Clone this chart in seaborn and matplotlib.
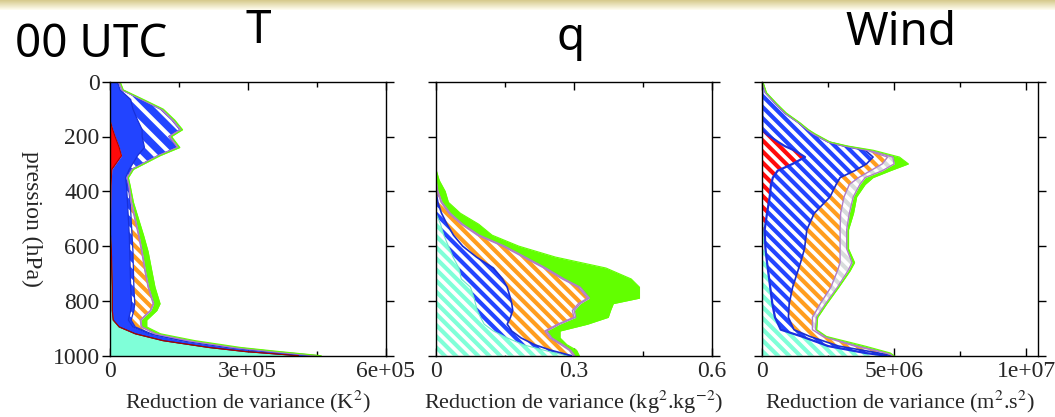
import numpy as np
import matplotlib
matplotlib.use("Agg")
import matplotlib.pyplot as plt
from matplotlib.ticker import NullLocator
import seaborn as sns

sns.set_style("white")
plt.rcParams.update({
    "font.family": ["Liberation Serif", "DejaVu Serif"],
    "mathtext.fontset": "stix",
    "hatch.linewidth": 3.0,
    "axes.linewidth": 1.0,
    "axes.edgecolor": "black",
})

# ---------------------------------------------------------------------------
# Cumulative reduction of variance, stacked by observation type
# (each array is the running total up to and including that type)
# ---------------------------------------------------------------------------

# Temperature (units of 1e5 K^2)
P_T = np.array([0, 30, 65, 100, 140, 175, 200, 240, 270, 320, 350, 380, 440, 500,
                560, 620, 690, 750, 810, 835, 870, 895, 920, 945, 970, 985, 1000])
T_CYAN = np.array([0, 0, 0, 0, 0, 0, 0, 0, 0, 0, 0, 0, 0, 0, 0.01, 0.03, 0.04, 0.05,
                   0.05, 0.05, 0.07, 0.2, 0.55, 1.15, 2.15, 2.95, 4.1])
T_RED = np.array([0, 0, 0, 0, 0, 0.06, 0.11, 0.2, 0.25, 0.04, 0.03, 0.02, 0.015, 0.01,
                  0.01, 0.03, 0.04, 0.05, 0.05, 0.05, 0.07, 0.2, 0.55, 1.15, 2.15, 2.95, 4.1])
T_BLUE = np.array([0.16, 0.22, 0.45, 0.5, 0.6, 0.7, 0.7, 0.75, 0.6, 0.42, 0.34, 0.36, 0.38,
                   0.40, 0.42, 0.43, 0.44, 0.45, 0.47, 0.45, 0.40, 0.5, 0.85, 1.55, 2.55, 3.4, 4.4])
T_BLUE_H = np.array([0.19, 0.26, 0.68, 1.1, 1.35, 1.52, 1.28, 1.46, 1.04, 0.47, 0.37, 0.40,
                     0.44, 0.46, 0.48, 0.50, 0.51, 0.52, 0.54, 0.52, 0.46, 0.55, 0.9, 1.62,
                     2.62, 3.47, 4.45])
T_ORANGE = np.array([0.19, 0.26, 0.69, 1.11, 1.36, 1.53, 1.29, 1.47, 1.05, 0.48, 0.375, 0.41,
                     0.46, 0.54, 0.62, 0.69, 0.76, 0.83, 0.94, 0.88, 0.66, 0.68, 0.98, 1.7,
                     2.7, 3.55, 4.5])
T_GREY = np.array([0.2, 0.27, 0.7, 1.12, 1.37, 1.54, 1.3, 1.48, 1.06, 0.49, 0.38, 0.42, 0.47,
                   0.55, 0.63, 0.70, 0.77, 0.84, 0.95, 0.89, 0.67, 0.69, 0.99, 1.72, 2.72,
                   3.57, 4.52])
T_GREEN = np.array([0.22, 0.29, 0.73, 1.16, 1.41, 1.58, 1.34, 1.52, 1.09, 0.51, 0.40, 0.44,
                    0.51, 0.62, 0.73, 0.83, 0.91, 0.98, 1.09, 1.02, 0.80, 0.80, 1.10, 1.85,
                    2.85, 3.7, 4.6])

# Specific humidity (kg^2.kg^-2)
P_Q = np.array([0, 320, 360, 400, 440, 480, 520, 560, 600, 640, 680, 720, 750, 790, 810,
                835, 860, 885, 910, 935, 960, 980, 1000])
Q_CYAN = np.array([0, 0, 0, 0, 0, 0, 0.01, 0.017, 0.027, 0.037, 0.05, 0.055, 0.075, 0.083,
                   0.086, 0.09, 0.097, 0.105, 0.125, 0.155, 0.19, 0.235, 0.285])
Q_BLUE = np.array([0, 0, 0, 0, 0.004, 0.012, 0.024, 0.038, 0.058, 0.088, 0.125, 0.145, 0.155,
                   0.162, 0.165, 0.167, 0.162, 0.155, 0.165, 0.185, 0.215, 0.25, 0.295])
Q_ORANGE = np.array([0, 0, 0, 0.003, 0.011, 0.028, 0.055, 0.09, 0.145, 0.19, 0.235, 0.275,
                     0.31, 0.33, 0.31, 0.297, 0.30, 0.265, 0.237, 0.248, 0.272, 0.29, 0.299])
Q_GREY = np.array([0, 0, 0, 0.004, 0.013, 0.031, 0.058, 0.094, 0.149, 0.194, 0.239, 0.279,
                   0.314, 0.334, 0.314, 0.301, 0.304, 0.269, 0.241, 0.252, 0.276, 0.293, 0.302])
Q_GREEN = np.array([0, 0, 0.007, 0.02, 0.027, 0.053, 0.093, 0.122, 0.18, 0.26, 0.37, 0.425,
                    0.443, 0.443, 0.386, 0.38, 0.375, 0.33, 0.27, 0.27, 0.285, 0.306, 0.312])

# Wind (units of 1e6 m^2.s^2)
P_W = np.array([0, 40, 80, 115, 150, 175, 190, 220, 235, 250, 275, 300, 325, 350, 375, 420,
                480, 540, 610, 660, 690, 750, 810, 860, 905, 930, 965, 990, 1000])
W_CYAN = np.array([0, 0, 0, 0, 0, 0, 0, 0, 0, 0, 0, 0, 0, 0, 0, 0, 0, 0.03, 0.12, 0.18,
                   0.22, 0.3, 0.38, 0.48, 0.7, 1.5, 2.5, 3.9, 4.7])
W_RED = np.array([0, 0, 0, 0, 0, 0, 0.15, 0.6, 0.85, 1.2, 1.62, 1.15, 0.58, 0.4, 0.33, 0.28,
                  0.18, 0.09, 0.12, 0.18, 0.22, 0.3, 0.38, 0.48, 0.7, 1.5, 2.5, 3.9, 4.7])
W_BLUE = np.array([0, 0.12, 0.5, 0.86, 1.38, 1.7, 1.92, 2.5, 3.1, 3.9, 4.2, 3.95, 3.5, 2.95,
                   2.8, 2.57, 1.97, 1.69, 1.6, 1.45, 1.35, 1.15, 1.02, 0.99, 1.2, 1.81, 2.9,
                   4.4, 4.9])
W_ORANGE = np.array([0, 0.12, 0.5, 0.86, 1.38, 1.7, 1.92, 2.5, 3.12, 3.95, 4.75, 4.55, 4.1,
                     3.65, 3.3, 3.1, 2.97, 2.95, 2.95, 2.95, 2.85, 2.6, 2.2, 1.9, 1.9, 2.3,
                     3.5, 4.7, 4.95])
W_GREY = np.array([0.01, 0.13, 0.52, 0.88, 1.4, 1.72, 1.95, 2.53, 3.17, 4.05, 4.95, 5.0, 4.55,
                   3.9, 3.7, 3.45, 3.3, 3.2, 3.2, 3.4, 3.25, 2.85, 2.4, 2.05, 2.02, 2.38, 3.6,
                   4.75, 4.97])
W_GREEN = np.array([0.02, 0.16, 0.55, 0.92, 1.43, 1.75, 2.0, 2.57, 3.25, 4.2, 5.2, 5.54, 4.85,
                    4.2, 3.9, 3.58, 3.46, 3.27, 3.27, 3.5, 3.33, 2.9, 2.45, 2.1, 2.06, 2.44,
                    3.9, 4.85, 5.0])

PRESSURE_TICKS = [0, 200, 400, 600, 800, 1000]
T_TICKS, T_TICKLABELS = [0, 3e5, 6e5], ["0", "3e+05", "6e+05"]
Q_TICKS, Q_TICKLABELS = [0, 0.3, 0.6], ["0", "0.3", "0.6"]
W_TICKS, W_TICKLABELS = [0, 5e6, 1e7], ["0", "5e+06", "1e+07"]

# ---------------------------------------------------------------------------
# Fill styles
# ---------------------------------------------------------------------------
CYAN = "#7fffd8"
RED = "#ff0a0a"
BLUE = "#2244ff"
ORANGE = "#ff9d1e"
GREY = "#d8dcdc"
GREEN = "#62ff00"
VIOLET = "#b07cc8"

BS = chr(92)                 # backslash: stripes running top-left to bottom-right
STRIPES = BS * 3             # diagonal stripes on white
SPARSE = BS * 2              # sparse white stripes on a solid fill

STYLE = {
    "cyan":     dict(face=CYAN, edge=None, hatch=None, line="#2a2a2a", lw=0.8),
    "cyan_h":   dict(face="white", edge=CYAN, hatch=STRIPES, line="#70e8c8", lw=0.8),
    "red":      dict(face=RED, edge=None, hatch=None, line="#b00000", lw=0.8),
    "red_h":    dict(face="white", edge=RED, hatch=STRIPES, line="#1a30e0", lw=1.6),
    "blue":     dict(face=BLUE, edge=None, hatch=None, line="#1830d8", lw=0.9),
    "blue_wh":  dict(face=BLUE, edge="white", hatch=SPARSE, line="#1830d8", lw=0.9),
    "blue_h":   dict(face="white", edge=BLUE, hatch=STRIPES, line="#1a2ed0", lw=1.2),
    "orange_h": dict(face="white", edge=ORANGE, hatch=STRIPES, line=VIOLET, lw=1.0),
    "grey_h":   dict(face="white", edge=GREY, hatch=STRIPES, line=VIOLET, lw=1.0),
    "green":    dict(face=GREEN, edge=None, hatch=None, line=GREEN, lw=0.8),
}


def draw_profile(ax, p, layers, scale, xmax, ticks, ticklabels, xlabel):
    lower = np.zeros_like(p, dtype=float)
    for key, cum in layers:
        upper = cum * scale
        st = STYLE[key]
        kw = dict(facecolor=st["face"], linewidth=0)
        if st["hatch"]:
            kw.update(edgecolor=st["edge"], hatch=st["hatch"])
        ax.fill_betweenx(p, lower, upper, **kw)
        lower = upper
    # outline of each stacked layer
    for key, cum in layers:
        st = STYLE[key]
        sns.lineplot(x=cum * scale, y=p, orient="y", sort=False, estimator=None,
                     color=st["line"], linewidth=st["lw"], ax=ax, legend=False)

    ax.set_xlim(0, xmax)
    ax.set_ylim(1000, 0)
    ax.set_xticks(ticks)
    ax.set_xticklabels(ticklabels)
    step = (ticks[1] - ticks[0]) / 2
    ax.set_xticks(np.arange(step, xmax, 2 * step), minor=True)
    ax.set_yticks(PRESSURE_TICKS)
    ax.yaxis.set_minor_locator(NullLocator())
    ax.tick_params(axis="x", which="both", direction="in", top=True, bottom=True,
                   labelsize=17, pad=4, width=1, color="black")
    ax.tick_params(axis="x", which="major", length=6)
    ax.tick_params(axis="x", which="minor", length=3.5)
    ax.tick_params(axis="y", which="major", direction="out", left=True, right=True,
                   length=6, width=1, labelsize=17, pad=1.5, color="black")
    ax.set_xlabel(xlabel, fontsize=16, labelpad=5)
    ax.set_ylabel("")
    for s in ax.spines.values():
        s.set_visible(True)
        s.set_color("black")
        s.set_linewidth(1.0)
    ax.set_facecolor("white")


W, H = 1055, 417
fig = plt.figure(figsize=(W / 100, H / 100), dpi=100, facecolor="white")

# tan banner along the top edge
band = fig.add_axes([0, 1 - 10 / H, 1, 10 / H])
top = np.array([214, 202, 140]) / 255
bot = np.array([255, 253, 240]) / 255
grad = np.linspace(0, 1, 20)[:, None, None]
band.imshow(top * (1 - grad) + bot * grad, aspect="auto", extent=[0, 1, 0, 1])
band.set_axis_off()

ax_b, ax_h = 1 - 355.7 / H, 274 / H
axw = 275.6 / W
axT = fig.add_axes([110 / W, ax_b, axw, ax_h])
axQ = fig.add_axes([436 / W, ax_b, axw, ax_h])
axW = fig.add_axes([762.3 / W, ax_b, axw, ax_h])

draw_profile(axT, P_T,
             [("cyan", T_CYAN), ("red", T_RED), ("blue", T_BLUE), ("blue_wh", T_BLUE_H),
              ("orange_h", T_ORANGE), ("grey_h", T_GREY), ("green", T_GREEN)],
             1e5, 6e5, T_TICKS, T_TICKLABELS, r"Reduction de variance (K$^2$)")
draw_profile(axQ, P_Q,
             [("cyan_h", Q_CYAN), ("blue_h", Q_BLUE), ("orange_h", Q_ORANGE),
              ("grey_h", Q_GREY), ("green", Q_GREEN)],
             1.0, 0.6, Q_TICKS, Q_TICKLABELS, r"Reduction de variance (kg$^2$.kg$^{-2}$)")
draw_profile(axW, P_W,
             [("cyan_h", W_CYAN), ("red_h", W_RED), ("blue_h", W_BLUE), ("orange_h", W_ORANGE),
              ("grey_h", W_GREY), ("green", W_GREEN)],
             1e6, 1.045e7, W_TICKS, W_TICKLABELS, r"Reduction de variance (m$^2$.s$^2$)")

axQ.set_yticklabels([])
axW.set_yticklabels([])
axT.set_yticklabels([str(v) for v in PRESSURE_TICKS])

fig.text(31.5 / W, 1 - 219 / H, "pression (hPa)", rotation=270, ha="center", va="center",
         fontsize=17)

title_font = dict(family=["Noto Sans", "DejaVu Sans"], fontsize=33, color="black")
fig.text(15 / W, 1 - 57 / H, "00 UTC", ha="left", va="baseline", **title_font)
fig.text(258 / W, 1 - 43 / H, "T", ha="center", va="baseline", **title_font)
fig.text(571 / W, 1 - 50 / H, "q", ha="center", va="baseline", **title_font)
fig.text(901 / W, 1 - 45 / H, "Wind", ha="center", va="baseline", **title_font)

fig.savefig("out.png", dpi=100, facecolor="white")
